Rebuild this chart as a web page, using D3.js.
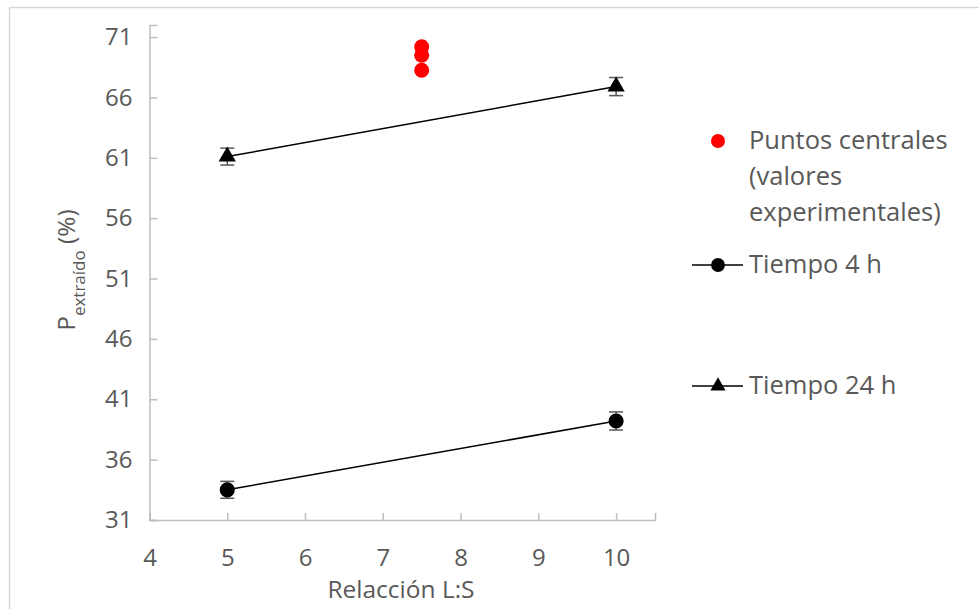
<!DOCTYPE html>
<html><head><meta charset="utf-8">
<script src="https://cdn.jsdelivr.net/npm/d3@7"></script>
<style>body{margin:0;background:#fff}svg{display:block}</style>
</head><body>
<script>
const xTicks = [4,5,6,7,8,9,10];
const yTicks = [31,36,41,46,51,56,61,66,71];
const relacion = [5,10];
const tiempo4h = [33.5,39.2];
const err4h = [0.7,0.75];
const tiempo24h = [61.1,66.9];
const err24h = [0.7,0.75];
const centralX = [7.5,7.5,7.5];
const centralY = [70.2,69.5,68.25];
const legendLabels = [["Puntos centrales","(valores","experimentales)"],["Tiempo 4 h"],["Tiempo 24 h"]];

const W=979,H=609;
const font="'Open Sans', sans-serif";
const txt="#595959";
const svg=d3.select("body").append("svg").attr("width",W).attr("height",H);
svg.append("rect").attr("x",9.5).attr("y",7.5).attr("width",1200).attr("height",1200)
  .attr("fill","none").attr("stroke","#d9d9d9").attr("stroke-width",1.5);

const x=d3.scaleLinear().domain([4,10.5]).range([149.5,655]);
const y=d3.scaleLinear().domain([31,72]).range([520,25]);

const gx=svg.append("g").attr("transform",`translate(0,${y(31)})`)
  .call(d3.axisBottom(x).tickValues(xTicks).tickSize(-7).tickPadding(29).tickFormat(d3.format("d")));
const gy=svg.append("g").attr("transform",`translate(${x(4)},0)`)
  .call(d3.axisLeft(y).tickValues(yTicks).tickSize(-8).tickPadding(17).tickFormat(d3.format("d")));
[gx,gy].forEach(g=>{
  g.select(".domain").attr("stroke","#bfbfbf").attr("stroke-width",1.5);
  g.selectAll(".tick line").attr("stroke","#bfbfbf").attr("stroke-width",1.5);
  g.selectAll(".tick text").attr("fill",txt).style("font-family",font).style("font-size","24px");
});

svg.append("text").attr("x",401).attr("y",598).attr("text-anchor","middle")
  .attr("fill",txt).style("font-family",font).style("font-size","24.5px").text("Relacción L:S");
const yt=svg.append("text").attr("transform","translate(75,270) rotate(-90)").attr("text-anchor","middle")
  .attr("fill",txt).style("font-family",font).style("font-size","24.5px");
yt.append("tspan").text("P");
yt.append("tspan").attr("dy",10).style("font-size","17px").text("extraído");
yt.append("tspan").attr("dy",-10).text(" (%)");

const line=d3.line().x(d=>x(d[0])).y(d=>y(d[1]));
function series(vals,errs,shape){
  const pts=relacion.map((r,i)=>[r,vals[i],errs[i]]);
  svg.append("path").attr("d",line(pts)).attr("fill","none").attr("stroke","#000").attr("stroke-width",1.5);
  pts.forEach(p=>{
    const cx=x(p[0]);
    const g=svg.append("g").attr("stroke","#595959").attr("stroke-width",1.5);
    g.append("line").attr("x1",cx).attr("x2",cx).attr("y1",y(p[1]-p[2])).attr("y2",y(p[1]+p[2]));
    [p[1]-p[2],p[1]+p[2]].forEach(v=>g.append("line").attr("x1",cx-7).attr("x2",cx+7).attr("y1",y(v)).attr("y2",y(v)));
    svg.append("path").attr("transform",`translate(${cx},${y(p[1])})`)
      .attr("d",d3.symbol().type(shape).size(shape===d3.symbolCircle?180:130)()).attr("fill","#000");
  });
}
series(tiempo4h,err4h,d3.symbolCircle);
series(tiempo24h,err24h,d3.symbolTriangle);

centralX.forEach((cx,i)=>svg.append("circle").attr("cx",x(cx)).attr("cy",y(centralY[i])).attr("r",7.5).attr("fill","#ff0000"));

const lg=svg.append("g");
const ly=[141,265,386];
lg.append("circle").attr("cx",718).attr("cy",ly[0]).attr("r",7).attr("fill","#ff0000");
[1,2].forEach(k=>{
  lg.append("line").attr("x1",692).attr("x2",743).attr("y1",ly[k]).attr("y2",ly[k]).attr("stroke","#000").attr("stroke-width",1.5);
  lg.append("path").attr("transform",`translate(718,${ly[k]})`)
    .attr("d",d3.symbol().type(k===1?d3.symbolCircle:d3.symbolTriangle).size(k===1?150:100)()).attr("fill","#000");
});
legendLabels.forEach((lines,k)=>{
  lines.forEach((t,j)=>lg.append("text").attr("x",749).attr("y",ly[k]+8+j*36)
    .attr("fill",txt).style("font-family",font).style("font-size","25.5px").text(t));
});
</script>
</body></html>
